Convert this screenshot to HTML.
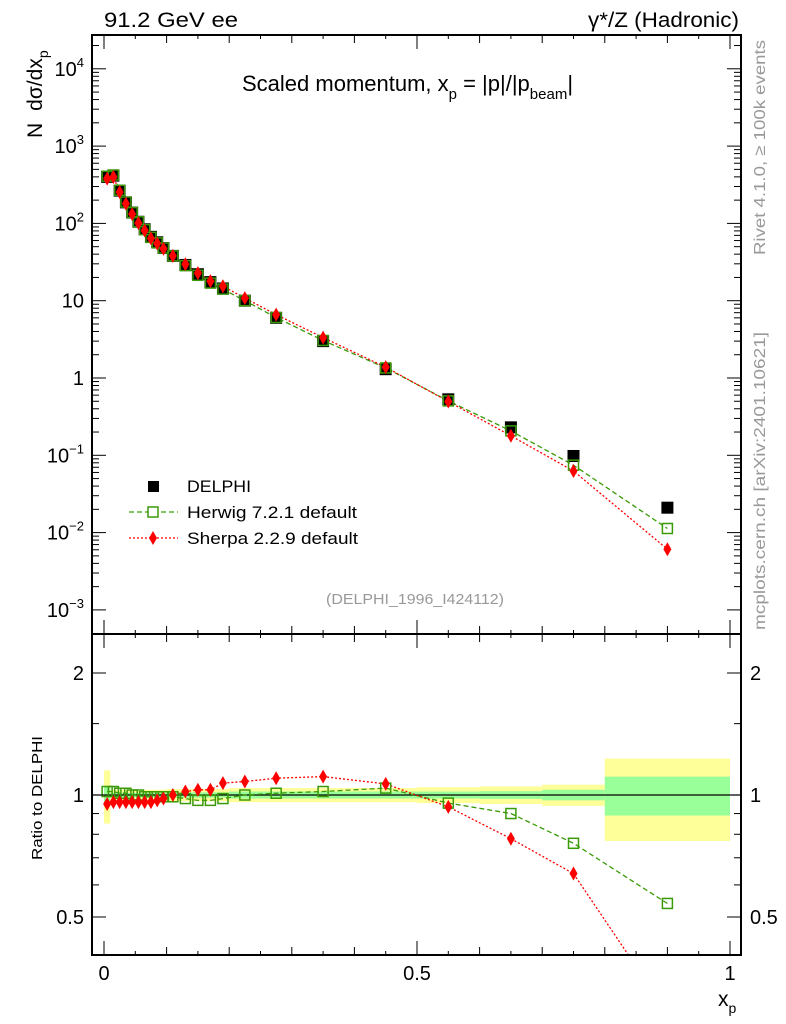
<!DOCTYPE html>
<html><head><meta charset="utf-8"><style>
body{margin:0;background:#fff}
svg{display:block;font-family:"Liberation Sans","DejaVu Sans",sans-serif}
</style></head><body>
<svg id="chart" width="786" height="1024" viewBox="0 0 786 1024" xmlns="http://www.w3.org/2000/svg">
<g id="bands"></g>
<g id="marks"></g>
<g id="axes"></g>
<text x="104" y="27" font-size="21" textLength="134" lengthAdjust="spacingAndGlyphs">91.2 GeV ee</text>
<text x="588" y="27" font-size="21" textLength="151" lengthAdjust="spacingAndGlyphs">γ*/Z (Hadronic)</text>
<text x="242" y="91" font-size="22">Scaled momentum, x<tspan font-size="15" dy="8">p</tspan><tspan dy="-8"> = |p|/|p</tspan><tspan font-size="15" dy="8">beam</tspan><tspan dy="-8">|</tspan></text>
<text transform="translate(42,138) rotate(-90)" font-size="21">N<tspan dx="12">dσ/dx</tspan><tspan font-size="14" dy="6">p</tspan></text>
<text transform="translate(42,860) rotate(-90)" font-size="15" textLength="124" lengthAdjust="spacingAndGlyphs">Ratio to DELPHI</text>
<text x="718" y="1006" font-size="21">x<tspan font-size="14" dy="7">p</tspan></text>
<text transform="translate(765,255) rotate(-90)" font-size="16" fill="#999" textLength="215" lengthAdjust="spacingAndGlyphs">Rivet 4.1.0, ≥ 100k events</text>
<text transform="translate(765,630) rotate(-90)" font-size="16" fill="#999" textLength="298" lengthAdjust="spacingAndGlyphs">mcplots.cern.ch [arXiv:2401.10621]</text>
<text x="415" y="604" font-size="15" fill="#999" text-anchor="middle" textLength="178" lengthAdjust="spacingAndGlyphs">(DELPHI_1996_I424112)</text>
<g>
<rect x="148" y="481" width="11" height="11" fill="#000"/>
<text x="187" y="492" font-size="17" textLength="64" lengthAdjust="spacingAndGlyphs">DELPHI</text>
<line x1="129" y1="512" x2="178" y2="512" stroke="#3a9a08" stroke-dasharray="5,3" stroke-width="1.3"/>
<rect x="148" y="507" width="10" height="10" fill="#fff" stroke="#3a9a08" stroke-width="1.5"/>
<text x="187" y="518" font-size="17" textLength="170" lengthAdjust="spacingAndGlyphs">Herwig 7.2.1 default</text>
<line x1="129" y1="538" x2="178" y2="538" stroke="#f00" stroke-dasharray="2,2" stroke-width="1.3"/>
<path d="M153,531 L157,538 L153,545 L149,538Z" fill="#f00"/>
<text x="187" y="544" font-size="17" textLength="171" lengthAdjust="spacingAndGlyphs">Sherpa 2.2.9 default</text>
</g>
</svg>
<script>
const xs=[0.005,0.015,0.025,0.035,0.045,0.055,0.065,0.075,0.085,0.095,0.11,0.13,0.15,0.17,0.19,0.225,0.275,0.35,0.45,0.55,0.65,0.75,0.9];
const delphi=[400,415,265,187,138,105,84,67,57,48,38,29,22,17.4,14.4,10.0,6.0,3.0,1.3,0.53,0.23,0.098,0.021];
const herwig=[408,423,268,189,138,105,83,66,56,48,38,28.4,21.3,16.9,14.1,10.0,6.06,3.06,1.35,0.506,0.207,0.0745,0.0113];
const sherpa=[380,398,254,180,132,101,81,64,55,47,38,29.6,22.7,17.9,15.4,10.8,6.6,3.33,1.38,0.496,0.179,0.0627,0.0061];
const herwigRatio=[1.02,1.02,1.01,1.01,1.0,1.0,0.99,0.99,0.99,0.99,0.99,0.98,0.97,0.97,0.98,1.0,1.01,1.02,1.04,0.955,0.90,0.76,0.54];
const sherpaRatio=[0.95,0.96,0.96,0.96,0.96,0.96,0.96,0.96,0.97,0.98,1.0,1.02,1.03,1.03,1.07,1.08,1.10,1.11,1.065,0.935,0.78,0.64,0.29];
const binLo=[0,0.01,0.1,0.2,0.5,0.6,0.7,0.8];
const binHi=[0.01,0.1,0.2,0.5,0.6,0.7,0.8,1.0];
const bandTotal=[0.15,0.03,0.035,0.04,0.045,0.05,0.06,0.23];
const bandStat=[0.05,0.012,0.015,0.02,0.02,0.022,0.03,0.11];
const yTicksMain=[0.001,0.01,0.1,1,10,100,1000,10000];
const yTickLabels=["10<tspan font-size='13' dy='-9'>−3</tspan>","10<tspan font-size='13' dy='-9'>−2</tspan>","10<tspan font-size='13' dy='-9'>−1</tspan>","1","10","10<tspan font-size='13' dy='-9'>2</tspan>","10<tspan font-size='13' dy='-9'>3</tspan>","10<tspan font-size='13' dy='-9'>4</tspan>"];
const rTicks=[0.5,1,2];

const L=92,R=741,T=35,MB=634,RB=955;
const X=v=>104+626*v;
const Y=v=>378-77.3*Math.log10(v);
const YR=r=>795-122*Math.log2(r);
const NS="http://www.w3.org/2000/svg";
function mk(par,tag,at){const e=document.createElementNS(NS,tag);for(const k in at)e.setAttribute(k,at[k]);document.getElementById(par).appendChild(e);return e;}

for(let i=0;i<binLo.length;i++){
 let e=mk('bands','rect',{x:X(binLo[i]),y:YR(1+bandTotal[i]),width:X(binHi[i])-X(binLo[i]),height:YR(1-bandTotal[i])-YR(1+bandTotal[i]),fill:'#ffff99'});
 
 
 let g=mk('bands','rect',{x:X(binLo[i]),y:YR(1+bandStat[i]),width:X(binHi[i])-X(binLo[i]),height:YR(1-bandStat[i])-YR(1+bandStat[i]),fill:'#99ff99'});
 
 
}
let ref=mk('bands','line',{x1:L,x2:R,y1:YR(1),y2:YR(1),stroke:'#000','stroke-width':1.3});



const defs=mk('marks','defs',{});
const cp=document.createElementNS(NS,'clipPath');cp.setAttribute('id','rc');defs.appendChild(cp);
const cr=document.createElementNS(NS,'rect');cr.setAttribute('x',L);cr.setAttribute('y',MB);cr.setAttribute('width',R-L);cr.setAttribute('height',RB-MB);cp.appendChild(cr);
const rg=mk('marks','g',{'clip-path':'url(#rc)',id:'ratiog'});



function line(par,vals,f,color,dash,name){
 let d=vals.map((v,i)=>(i?'L':'M')+X(xs[i]).toFixed(1)+','+f(v).toFixed(1)).join(' ');
 let p=mk(par,'path',{d:d,fill:'none',stroke:color,'stroke-width':1.3,'stroke-dasharray':dash});
 
 
}
function sq(par,x,y,name){let e=mk(par,'rect',{x:x-5,y:y-5,width:10,height:10,fill:'#fff','fill-opacity':0,stroke:'#3a9a08','stroke-width':1.5});
 
 }
function dia(par,x,y,name){let e=mk(par,'path',{d:`M${x},${y-7}L${x+4},${y}L${x},${y+7}L${x-4},${y}Z`,fill:'#f00'});
 
 }

line('marks',herwig,Y,'#3a9a08','5,3','herwig-line');
line('marks',sherpa,Y,'#f00','2,2','sherpa-line');
delphi.forEach((v,i)=>{let e=mk('marks','rect',{x:X(xs[i])-6,y:Y(v)-6,width:12,height:12,fill:'#000'});
 
 });
herwig.forEach((v,i)=>sq('marks',X(xs[i]),Y(v),'herwig-point'));
sherpa.forEach((v,i)=>dia('marks',X(xs[i]),Y(v),'sherpa-point'));
line('ratiog',herwigRatio,YR,'#3a9a08','5,3','herwig-ratio-line');
line('ratiog',sherpaRatio,YR,'#f00','2,2','sherpa-ratio-line');
herwigRatio.forEach((v,i)=>sq('ratiog',X(xs[i]),YR(v),'herwig-ratio-point'));
sherpaRatio.forEach((v,i)=>dia('ratiog',X(xs[i]),YR(v),'sherpa-ratio-point'));

[[T,MB],[MB,RB]].forEach(([a,b])=>{let f=mk('axes','rect',{x:L,y:a,width:R-L,height:b-a,fill:'none',stroke:'#000','stroke-width':2});
 
 });
for(let k=0;k<=20;k++){const v=k/20,x=X(v);const len=(k%10==0)?14:(k%2==0?8:4);
 [[MB,1],[T,-1],[RB,1],[MB,-1]].forEach(([y0,s])=>{ mk('axes','line',{x1:x,x2:x,y1:y0,y2:y0-s*len,stroke:'#000','stroke-width':1});});}
[[0,'0'],[0.5,'0.5'],[1,'1']].forEach(([v,t])=>{let e=mk('axes','text',{x:X(v),y:980,'font-size':20,'text-anchor':'middle'});e.textContent=t;
 
 });
yTicksMain.forEach((v,i)=>{const y=Y(v);
 [[L,1],[R,-1]].forEach(([x0,s])=>mk('axes','line',{x1:x0,x2:x0+s*14,y1:y,y2:y,stroke:'#000'}));
 for(let m=2;m<10;m++){const ym=Y(v*m);if(ym<T)continue;[[L,1],[R,-1]].forEach(([x0,s])=>mk('axes','line',{x1:x0,x2:x0+s*7,y1:ym,y2:ym,stroke:'#000'}));}
 let e=mk('axes','text',{x:84,y:y+7,'font-size':20,'text-anchor':'end'});e.innerHTML=yTickLabels[i];
 
 });
rTicks.forEach(r=>{const y=YR(r);
 [[L,1],[R,-1]].forEach(([x0,s])=>mk('axes','line',{x1:x0,x2:x0+s*14,y1:y,y2:y,stroke:'#000'}));
 [[84,'end'],[750,'start']].forEach(([x,a])=>{let e=mk('axes','text',{x:x,y:y+7,'font-size':20,'text-anchor':a});e.textContent=String(r);
 
 });});
[0.4,0.6,0.7,0.8,0.9,1.5,2.5].forEach(r=>{const y=YR(r);if(y<MB||y>RB)return;[[L,1],[R,-1]].forEach(([x0,s])=>mk('axes','line',{x1:x0,x2:x0+s*7,y1:y,y2:y,stroke:'#000'}));});
</script>
</body></html>
